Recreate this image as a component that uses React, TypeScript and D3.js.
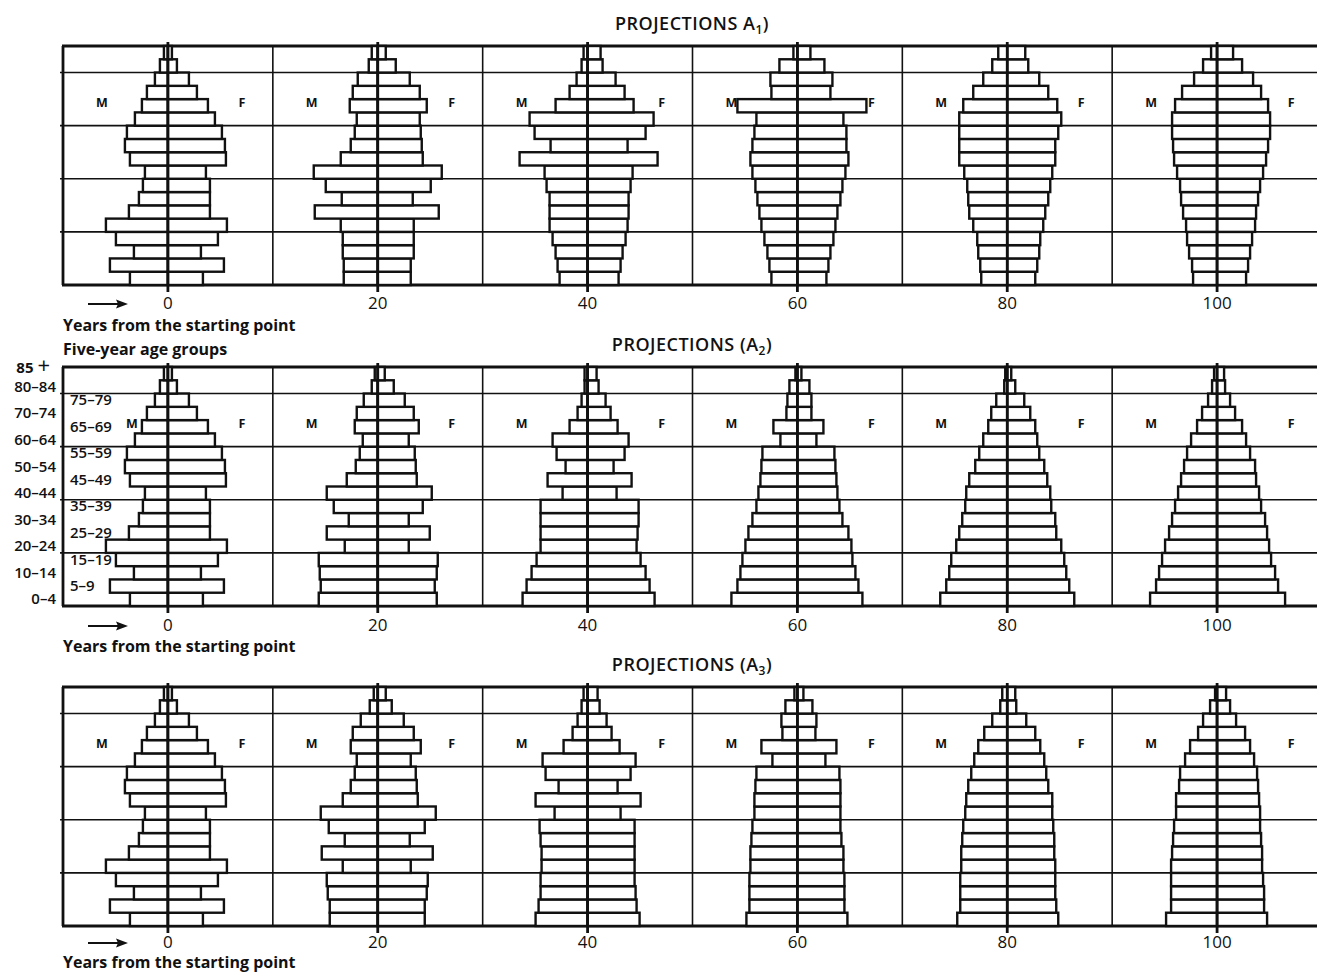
import React, { useEffect, useRef } from "react";
import * as d3 from "d3";

// five-year age groups, youngest first
const AGE_GROUPS = ["0–4", "5–9", "10–14", "15–19", "20–24", "25–29", "30–34", "35–39", "40–44",
  "45–49", "50–54", "55–59", "60–64", "65–69", "70–74", "75–79", "80–84", "85 +"];
const YEARS = [0, 20, 40, 60, 80, 100];
const SUBS = ["1", "2", "3"];

// starting population (same in all projections), share per age group
const startM = [3.8, 5.8, 3.4, 5.2, 6.2, 3.9, 2.9, 2.5, 2.3, 3.8, 4.3, 4.1, 3.3, 2.6, 2.1, 1.3, 0.8, 0.4];
const startF = [3.5, 5.6, 3.3, 5.0, 5.9, 4.2, 4.2, 4.2, 3.8, 5.8, 5.7, 5.4, 4.7, 4.0, 2.9, 2.1, 0.9, 0.4];

// projection A1 : years 20, 40, 60, 80, 100
const a1M = [
  [3.4, 3.4, 3.5, 3.5, 3.7, 6.3, 3.6, 5.2, 6.4, 3.7, 2.7, 2.3, 2.1, 2.8, 2.5, 2.0, 0.9, 0.6],
  [2.8, 3.0, 3.2, 3.5, 3.8, 3.8, 3.8, 4.1, 4.3, 6.8, 3.7, 5.3, 5.8, 3.2, 1.8, 1.1, 0.6, 0.4],
  [2.6, 2.8, 3.0, 3.3, 3.6, 3.8, 4.0, 4.2, 4.5, 4.7, 4.5, 4.3, 4.1, 6.0, 2.6, 2.7, 1.8, 0.4],
  [2.6, 2.7, 2.9, 3.0, 3.4, 3.8, 3.9, 4.0, 4.3, 4.8, 4.8, 4.8, 4.8, 4.4, 3.4, 2.4, 1.5, 0.9],
  [2.4, 2.5, 2.8, 3.0, 3.1, 3.4, 3.6, 3.7, 4.0, 4.3, 4.4, 4.5, 4.5, 4.2, 3.5, 2.3, 1.4, 0.6],
];
const a1F = [
  [3.3, 3.3, 3.6, 3.6, 3.6, 6.1, 3.5, 5.3, 6.4, 4.5, 4.4, 4.3, 4.2, 4.9, 4.2, 3.2, 1.8, 0.8],
  [3.1, 3.3, 3.5, 3.8, 4.0, 4.1, 4.1, 4.3, 4.5, 7.0, 4.0, 5.8, 6.6, 4.6, 3.7, 2.8, 1.5, 1.3],
  [2.9, 3.1, 3.3, 3.6, 3.8, 4.0, 4.3, 4.5, 4.8, 5.1, 4.9, 4.9, 4.6, 6.9, 3.3, 3.5, 2.7, 1.3],
  [2.8, 3.0, 3.2, 3.3, 3.6, 3.8, 4.1, 4.3, 4.5, 4.8, 4.8, 5.1, 5.4, 5.0, 4.1, 3.2, 2.1, 1.8],
  [2.9, 3.1, 3.3, 3.5, 3.8, 3.9, 4.1, 4.3, 4.6, 4.9, 5.1, 5.3, 5.3, 5.1, 4.4, 3.6, 2.5, 1.6],
];

// projection A2
const a2M = [
  [5.9, 5.7, 5.8, 5.9, 3.3, 5.1, 2.9, 4.4, 5.1, 3.1, 2.2, 1.8, 1.5, 2.3, 2.1, 1.4, 0.6, 0.3],
  [6.5, 6.1, 5.6, 5.1, 4.7, 4.7, 4.7, 4.7, 2.5, 4.0, 2.2, 3.1, 3.5, 1.8, 1.0, 0.6, 0.3, 0.3],
  [6.6, 6.0, 5.7, 5.5, 5.2, 4.9, 4.5, 4.1, 3.9, 3.7, 3.6, 3.5, 1.7, 2.4, 1.1, 1.0, 0.8, 0.2],
  [6.7, 6.1, 5.8, 5.6, 5.1, 4.8, 4.5, 4.2, 4.1, 3.8, 3.2, 2.8, 2.4, 1.9, 1.6, 1.1, 0.3, 0.2],
  [6.7, 6.1, 5.8, 5.5, 5.2, 4.8, 4.5, 4.2, 3.9, 3.6, 3.3, 3.0, 2.6, 2.0, 1.5, 0.9, 0.5, 0.3],
];
const a2F = [
  [5.9, 5.7, 5.9, 6.0, 3.1, 5.2, 3.1, 4.5, 5.4, 3.9, 3.8, 3.7, 3.1, 4.1, 3.6, 2.7, 1.6, 0.7],
  [6.7, 6.2, 5.8, 5.3, 4.9, 5.0, 5.1, 5.1, 2.9, 4.4, 2.6, 3.7, 4.1, 3.0, 2.3, 1.8, 1.1, 0.9],
  [6.5, 6.1, 5.8, 5.5, 5.4, 5.1, 4.5, 4.2, 4.0, 3.9, 3.8, 3.7, 1.9, 2.6, 1.4, 1.4, 1.2, 0.4],
  [6.7, 6.2, 5.9, 5.7, 5.4, 4.9, 4.8, 4.4, 4.3, 4.0, 3.7, 3.2, 3.0, 2.8, 2.3, 1.7, 0.8, 0.4],
  [6.8, 6.1, 5.8, 5.4, 5.2, 5.0, 4.8, 4.4, 4.2, 3.9, 3.8, 3.3, 2.9, 2.5, 1.8, 1.3, 0.8, 0.7],
];

// projection A3
const a3M = [
  [4.8, 4.8, 5.0, 5.1, 3.5, 5.6, 3.3, 4.9, 5.7, 3.5, 2.7, 2.3, 2.1, 2.7, 2.5, 1.7, 0.8, 0.4],
  [5.2, 4.9, 4.7, 4.7, 4.6, 4.6, 4.7, 4.8, 3.3, 5.2, 2.9, 4.2, 4.5, 2.4, 1.5, 1.0, 0.6, 0.4],
  [5.1, 4.8, 4.8, 4.8, 4.7, 4.7, 4.6, 4.5, 4.3, 4.3, 4.2, 4.1, 2.5, 3.6, 1.5, 1.6, 1.2, 0.3],
  [5.0, 4.7, 4.7, 4.7, 4.6, 4.6, 4.5, 4.4, 4.2, 4.1, 3.9, 3.6, 3.3, 2.9, 2.3, 1.5, 0.7, 0.5],
  [5.1, 4.6, 4.6, 4.6, 4.6, 4.5, 4.4, 4.3, 4.1, 4.1, 3.8, 3.7, 3.2, 2.7, 1.9, 1.4, 0.7, 0.2],
];
const a3F = [
  [4.7, 4.7, 4.9, 5.0, 3.3, 5.5, 3.2, 4.7, 5.8, 4.0, 3.9, 3.8, 3.3, 4.3, 3.6, 2.6, 1.4, 0.8],
  [5.2, 4.9, 4.8, 4.7, 4.7, 4.7, 4.7, 4.7, 3.3, 5.3, 3.0, 4.3, 4.8, 3.2, 2.4, 1.9, 1.2, 1.0],
  [5.0, 4.7, 4.7, 4.7, 4.6, 4.6, 4.4, 4.3, 4.3, 4.3, 4.3, 4.2, 2.8, 3.9, 1.8, 1.9, 1.5, 0.6],
  [5.1, 4.9, 4.8, 4.8, 4.8, 4.7, 4.7, 4.6, 4.5, 4.5, 4.1, 3.9, 3.7, 3.3, 2.8, 1.9, 0.9, 0.8],
  [5.0, 4.7, 4.7, 4.6, 4.5, 4.5, 4.4, 4.3, 4.3, 4.2, 4.1, 4.0, 3.7, 3.3, 2.8, 1.9, 1.3, 0.9],
];

const PROJ = [
  { m: a1M, f: a1F, title: "PROJECTIONS  A", close: ")" },
  { m: a2M, f: a2F, title: "PROJECTIONS (A", close: ")" },
  { m: a3M, f: a3F, title: "PROJECTIONS (A", close: ")" },
];

const W = 1317;
const H = 975;
const PANEL_TOP = [46, 367, 687];
const PANEL_H = 239;
const TICK_OFF = [24, 25, 22];
const CAP_OFF = [46, 46, 42];
const INK = "#111";
const FONT = "'Open Sans', 'DejaVu Sans', sans-serif";

const App = () => {
  const ref = useRef(null);

  useEffect(() => {
    const svg = d3.select(ref.current);
    svg.selectAll("*").remove();

    const x = d3.scaleLinear().domain([-10, 110]).range([63, 1322]);
    const share = d3.scaleLinear().domain([0, 10]).range([0, 100]);
    const left = x(-10);

    PROJ.forEach((p, pi) => {
      const top = PANEL_TOP[pi];
      const bottom = top + PANEL_H;
      const y = d3.scaleLinear().domain([0, 90]).range([bottom, top]);
      const g = svg.append("g");

      // grid
      g.selectAll(null).data([20, 40, 60, 80]).join("line")
        .attr("x1", left - 3).attr("x2", W)
        .attr("y1", d => y(d)).attr("y2", d => y(d))
        .attr("stroke", INK).attr("stroke-width", 1.6);
      g.selectAll(null).data([10, 30, 50, 70, 90]).join("line")
        .attr("x1", d => x(d)).attr("x2", d => x(d))
        .attr("y1", top).attr("y2", bottom)
        .attr("stroke", INK).attr("stroke-width", 1.6);
      // frame
      g.selectAll(null).data([0, 90]).join("line")
        .attr("x1", left - 1).attr("x2", W)
        .attr("y1", d => y(d)).attr("y2", d => y(d))
        .attr("stroke", INK).attr("stroke-width", 2.8);
      g.append("line")
        .attr("x1", left).attr("x2", left)
        .attr("y1", top).attr("y2", bottom)
        .attr("stroke", INK).attr("stroke-width", 2.8);

      YEARS.forEach((yr, yi) => {
        const m = yi === 0 ? startM : p.m[yi - 1];
        const f = yi === 0 ? startF : p.f[yi - 1];
        const cx = x(yr);

        g.selectAll(null).data(m).join("rect")
          .attr("x", d => cx - share(d))
          .attr("y", (_, i) => y(i * 5 + 5))
          .attr("width", d => share(d))
          .attr("height", (_, i) => y(i * 5) - y(i * 5 + 5))
          .attr("fill", "#fff").attr("stroke", INK).attr("stroke-width", 2.4);
        g.selectAll(null).data(f).join("rect")
          .attr("x", cx)
          .attr("y", (_, i) => y(i * 5 + 5))
          .attr("width", d => share(d))
          .attr("height", (_, i) => y(i * 5) - y(i * 5 + 5))
          .attr("fill", "#fff").attr("stroke", INK).attr("stroke-width", 2.4);

        // central axis
        g.append("line")
          .attr("x1", cx).attr("x2", cx)
          .attr("y1", top - 4).attr("y2", bottom + 7)
          .attr("stroke", INK).attr("stroke-width", 2.8);

        // M / F
        const mOff = pi === 1 && yi === 0 ? -36 : -66;
        g.append("text").attr("x", cx + mOff).attr("y", top + 61)
          .attr("text-anchor", "middle").attr("font-family", FONT)
          .attr("font-size", 12.5).attr("font-weight", 700).attr("fill", INK).text("M");
        g.append("text").attr("x", cx + 74).attr("y", top + 61)
          .attr("text-anchor", "middle").attr("font-family", FONT)
          .attr("font-size", 12.5).attr("font-weight", 700).attr("fill", INK).text("F");

        // year tick
        g.append("text").attr("x", cx).attr("y", bottom + TICK_OFF[pi])
          .attr("text-anchor", "middle").attr("font-family", FONT)
          .attr("font-size", 17).attr("fill", INK).text(yr);
      });

      // title
      const t = g.append("text").attr("x", 692).attr("y", top - 16)
        .attr("text-anchor", "middle").attr("font-family", FONT)
        .attr("font-size", 18).attr("font-weight", 600).attr("letter-spacing", 0.5)
        .attr("fill", INK);
      t.append("tspan").text(p.title);
      t.append("tspan").attr("font-size", 12).attr("dy", 4).text(SUBS[pi]);
      t.append("tspan").attr("dy", -4).text(p.close);

      // arrow + axis caption
      const ay = bottom + TICK_OFF[pi] - 5;
      g.append("line").attr("x1", 88).attr("x2", 118).attr("y1", ay).attr("y2", ay)
        .attr("stroke", INK).attr("stroke-width", 2);
      g.append("path")
        .attr("d", `M${128},${ay} L${116},${ay - 4.5} L${118},${ay} L${116},${ay + 4.5} Z`)
        .attr("fill", INK);
      g.append("text").attr("x", 63).attr("y", bottom + CAP_OFF[pi])
        .attr("font-family", FONT).attr("font-size", 16).attr("font-weight", 700)
        .attr("fill", INK).text("Years from the starting point");

      // age-group labels on the middle panel
      if (pi === 1) {
        svg.append("text").attr("x", 63).attr("y", top - 12)
          .attr("font-family", FONT).attr("font-size", 16).attr("font-weight", 700)
          .attr("fill", INK).text("Five-year age groups");

        const rowMid = i => (y(i * 5) + y(i * 5 + 5)) / 2;
        AGE_GROUPS.forEach((a, i) => {
          const outside = i % 2 === 0 || i === 17;
          if (i === 17) {
            const tt = g.append("text").attr("x", 50).attr("y", rowMid(i) - 1)
              .attr("text-anchor", "end").attr("font-family", FONT)
              .attr("font-size", 15).attr("font-weight", 700).attr("fill", INK);
            tt.append("tspan").text("85 ");
            tt.append("tspan").attr("font-size", 22).attr("font-weight", 400).text("+");
            return;
          }
          g.append("text")
            .attr("x", outside ? 56 : 70)
            .attr("y", rowMid(i) + 5)
            .attr("text-anchor", outside ? "end" : "start")
            .attr("font-family", FONT).attr("font-size", 15).attr("font-weight", 600)
            .attr("fill", INK).text(a);
        });
      }
    });
  }, []);

  return (
    <svg ref={ref} width={W} height={H}
      style={{ position: "absolute", left: 0, top: 0, background: "#fff" }} />
  );
};

export default App;
